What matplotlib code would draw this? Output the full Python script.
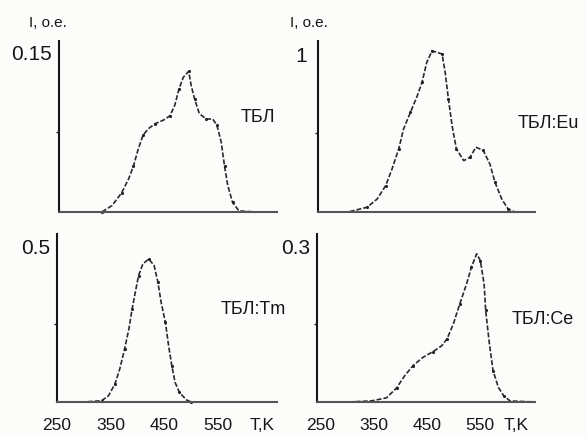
import matplotlib
matplotlib.use("Agg")
import matplotlib.pyplot as plt

plt.rcParams['font.family'] = ['Liberation Sans', 'DejaVu Sans']

W, H = 586, 439

# --- data (T in K, I in arb. units) ---
tbl_T = [255, 300, 333, 352, 370, 383, 392, 401, 410, 420, 432, 448, 460,
         469, 477, 485, 495, 500, 506, 515, 528, 540, 548, 556, 562, 568,
         577, 589, 620, 657]
tbl_I = [0.0, 0.0, 0.0, 0.006, 0.018, 0.031, 0.043, 0.059, 0.072, 0.078, 0.0825, 0.086, 0.090,
         0.0997, 0.115, 0.126, 0.1315, 0.118, 0.106, 0.092, 0.087, 0.087, 0.081, 0.065, 0.043, 0.025,
         0.009, 0.001, 0.0, 0.0]

eu_T = [250, 300, 336, 355, 371, 383, 396, 405, 418, 431, 440, 449, 459,
        468, 478, 484, 490, 497, 505, 519, 531, 542, 556, 569, 578, 591,
        603, 616, 650]
eu_I = [0.0, 0.0, 0.03, 0.082, 0.166, 0.27, 0.40, 0.525, 0.63, 0.735, 0.82, 0.947, 1.02,
        1.01, 1.0, 0.88, 0.715, 0.546, 0.40, 0.325, 0.346, 0.41, 0.39, 0.30, 0.19, 0.082,
        0.019, 0.0, 0.0]

tm_T = [255, 300, 333, 346, 358, 367, 376, 384, 390, 396, 402, 410, 421,
        431, 438, 444, 452, 458, 464, 470, 478, 491, 500, 560, 657]
tm_I = [0.0, 0.0, 0.004, 0.02, 0.058, 0.106, 0.17, 0.234, 0.298, 0.352, 0.405, 0.442, 0.458,
        0.437, 0.384, 0.32, 0.255, 0.18, 0.116, 0.063, 0.031, 0.007, 0.0, 0.0, 0.0]

ce_T = [250, 300, 345, 374, 393, 408, 424, 443, 462, 478, 488, 500, 512,
        525, 534, 544, 551, 558, 561, 568, 575, 585, 595, 607, 654]
ce_I = [0.0, 0.0, 0.002, 0.008, 0.027, 0.05, 0.07, 0.086, 0.097, 0.108, 0.121, 0.15, 0.188,
        0.227, 0.259, 0.285, 0.272, 0.227, 0.176, 0.112, 0.06, 0.028, 0.012, 0.002, 0.0]

x_ticks = [250, 350, 450, 550]
names = ['ТБЛ', 'ТБЛ:Eu', 'ТБЛ:Tm', 'ТБЛ:Ce']
y_top = [0.15, 1, 0.5, 0.3]
y_top_lbl = ['0.15', '1', '0.5', '0.3']
y_max = [0.160, 1.082, 0.538, 0.323]

series = [(tbl_T, tbl_I), (eu_T, eu_I), (tm_T, tm_I), (ce_T, ce_I)]

# axes boxes in pixels: left, top, right, bottom
boxes = [(59, 42, 277, 213), (318, 42, 535, 213),
         (57, 235, 277, 403), (317, 235, 535, 403)]
xlims = [(253, 660), (243, 654), (253, 660), (243, 654)]
# label positions (pixels)
name_pos = [(258, 117), (548, 123), (253, 310), (543, 320)]
tk_pos = [None, None, (262, 426), (516, 426)]
ylab_pos = [(48, 23), (309, 23)]

ink = '#161616'
fig = plt.figure(figsize=(W / 100, H / 100), dpi=100, facecolor='#fcfcfa')

for i in range(4):
    l, t, r, b = boxes[i]
    ax = fig.add_axes([l / W, 1 - b / H, (r - l) / W, (b - t) / H])
    ax.set_facecolor('none')
    T, I = series[i]
    ax.plot(T, I, color='#2a2a2a', lw=1.2, ls=(0, (3, 1.2)), clip_on=False)
    ax.plot(T[2:-2:2], I[2:-2:2], ls='none', marker='.', ms=2.5, color='#222222', clip_on=False)
    ax.set_xlim(*xlims[i])
    ax.set_ylim(0, y_max[i])
    for s in ['top', 'right']:
        ax.spines[s].set_visible(False)
    ax.spines['left'].set_color(ink)
    ax.spines['left'].set_linewidth(1.5)
    ax.spines['bottom'].set_color('#555555')
    ax.spines['bottom'].set_linewidth(1.5)
    ax.set_yticks([y_top[i]])
    ax.set_yticklabels([y_top_lbl[i]], fontsize=15, color=ink)
    ax.tick_params(axis='y', length=0, pad=5 if i != 1 else 8)
    ax.set_yticks([y_top[i] / 2], minor=True)
    ax.tick_params(axis='y', which='minor', length=2.5, width=1, color=ink)
    if i >= 2:
        ax.set_xticks(x_ticks)
        ax.set_xticklabels([str(v) for v in x_ticks], fontsize=12.5, color=ink)
        ax.tick_params(axis='x', length=0, pad=11)
        fig.text(tk_pos[i][0] / W, 1 - tk_pos[i][1] / H, 'T,K', fontsize=12.5,
                 color=ink, ha='center', va='center')
    else:
        ax.set_xticks([])
    fig.text(name_pos[i][0] / W, 1 - name_pos[i][1] / H, names[i], fontsize=13,
             color=ink, ha='center', va='center')

for x, y in ylab_pos:
    fig.text(x / W, 1 - y / H, 'I, o.e.', fontsize=11, color=ink, ha='center', va='center')

fig.savefig('out.png', dpi=100, facecolor=fig.get_facecolor())
